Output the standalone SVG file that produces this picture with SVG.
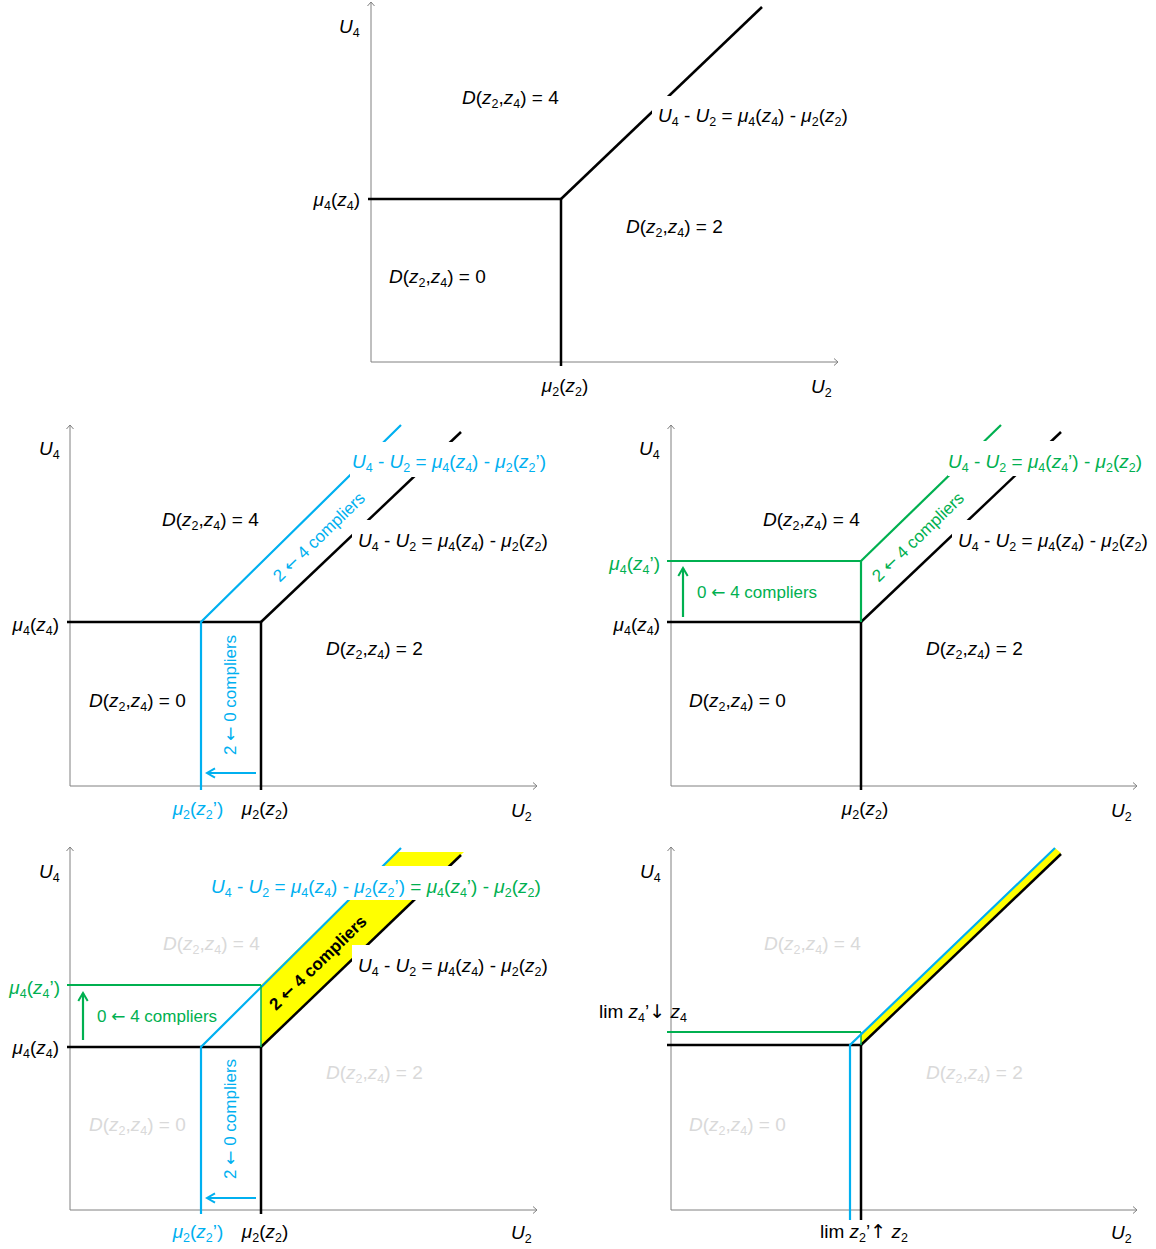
<svg xmlns="http://www.w3.org/2000/svg" width="1156" height="1249" viewBox="0 0 1156 1249">
<style>
.t{font-family:"Liberation Sans","DejaVu Sans",sans-serif;font-size:19px;fill:#000}
.c{font-size:17px}
.i{font-style:italic}
.s{font-size:12.5px}
.ar{font-family:"DejaVu Sans",sans-serif;font-style:normal}
.bl{fill:#00B0F0}
.gr{fill:#00B050}
.gy{fill:#D9D9D9}
.bd{font-weight:bold}
.ax{stroke:#808080;stroke-width:1;fill:none}
.k{stroke:#000;stroke-width:2.5;fill:none}
.bln{stroke:#00B0F0;stroke-width:2.2;fill:none}
.grn{stroke:#00B050;stroke-width:2.2;fill:none}
.grt{stroke:#00B050;stroke-width:1.5;fill:none}
.y{fill:#FFFF00;stroke:none}
.m{fill:#fff;stroke:none}
</style>
<defs>
<marker id="axh" markerUnits="userSpaceOnUse" markerWidth="8" markerHeight="10" refX="4.5" refY="5" orient="auto"><path d="M0.5,1.5 L4.5,5 L0.5,8.5" fill="none" stroke="#808080" stroke-width="1"/></marker>
<marker id="bah" markerUnits="userSpaceOnUse" markerWidth="12" markerHeight="12" refX="9" refY="6" orient="auto"><path d="M1,1.3 L9,6 L1,10.7" fill="none" stroke="#00B0F0" stroke-width="2"/></marker>
<marker id="gah" markerUnits="userSpaceOnUse" markerWidth="12" markerHeight="12" refX="9" refY="6" orient="auto"><path d="M1,1.3 L9,6 L1,10.7" fill="none" stroke="#00B050" stroke-width="2"/></marker>
</defs>
<rect width="1156" height="1249" fill="#fff"/>

<!-- ================= TOP PANEL ================= -->
<g id="panel-top">
<g id="top-connectors">
<line class="ax" x1="371" y1="362" x2="371" y2="2" marker-end="url(#axh)"/>
<line class="ax" x1="371" y1="362" x2="838" y2="362" marker-end="url(#axh)"/>
<polyline class="k" points="368,199 561,199 561,366"/>
<line class="k" x1="561" y1="199" x2="762" y2="7"/>
<rect class="m" x="652" y="96" width="200" height="35"/>
</g>
<g id="top-labels">
<text class="t" x="339" y="33"><tspan class="i">U</tspan><tspan class="s" dy="4">4</tspan></text>
<text class="t" x="462" y="104"><tspan class="i">D</tspan>(<tspan class="i">z</tspan><tspan class="s" dy="4">2</tspan><tspan dy="-4">,</tspan><tspan class="i">z</tspan><tspan class="s" dy="4">4</tspan><tspan dy="-4">) = 4</tspan></text>
<text class="t" x="658" y="122"><tspan class="i">U</tspan><tspan class="s" dy="4">4</tspan><tspan dy="-4"> - </tspan><tspan class="i">U</tspan><tspan class="s" dy="4">2</tspan><tspan dy="-4"> = </tspan><tspan class="i">μ</tspan><tspan class="s" dy="4">4</tspan><tspan dy="-4">(</tspan><tspan class="i">z</tspan><tspan class="s" dy="4">4</tspan><tspan dy="-4">) - </tspan><tspan class="i">μ</tspan><tspan class="s" dy="4">2</tspan><tspan dy="-4">(</tspan><tspan class="i">z</tspan><tspan class="s" dy="4">2</tspan><tspan dy="-4">)</tspan></text>
<text class="t" x="360" y="206" text-anchor="end"><tspan class="i">μ</tspan><tspan class="s" dy="4">4</tspan><tspan dy="-4">(</tspan><tspan class="i">z</tspan><tspan class="s" dy="4">4</tspan><tspan dy="-4">)</tspan></text>
<text class="t" x="626" y="233"><tspan class="i">D</tspan>(<tspan class="i">z</tspan><tspan class="s" dy="4">2</tspan><tspan dy="-4">,</tspan><tspan class="i">z</tspan><tspan class="s" dy="4">4</tspan><tspan dy="-4">) = 2</tspan></text>
<text class="t" x="389" y="283"><tspan class="i">D</tspan>(<tspan class="i">z</tspan><tspan class="s" dy="4">2</tspan><tspan dy="-4">,</tspan><tspan class="i">z</tspan><tspan class="s" dy="4">4</tspan><tspan dy="-4">) = 0</tspan></text>
<text class="t" x="565" y="392" text-anchor="middle"><tspan class="i">μ</tspan><tspan class="s" dy="4">2</tspan><tspan dy="-4">(</tspan><tspan class="i">z</tspan><tspan class="s" dy="4">2</tspan><tspan dy="-4">)</tspan></text>
<text class="t" x="811" y="393"><tspan class="i">U</tspan><tspan class="s" dy="4">2</tspan></text>
</g>
</g>

<!-- ================= MIDDLE LEFT ================= -->
<g id="panel-mid-left">
<g id="ml-connectors">
<line class="ax" x1="70" y1="786" x2="70" y2="425" marker-end="url(#axh)"/>
<line class="ax" x1="70" y1="786" x2="537" y2="786" marker-end="url(#axh)"/>
<polyline class="k" points="67,622 261,622 261,790"/>
<line class="k" x1="261" y1="622" x2="461" y2="432"/>
<polyline class="bln" points="201,790 201,622 401,425"/>
<line class="bln" x1="256" y1="773" x2="207" y2="773" marker-end="url(#bah)"/>
<rect class="m" x="350" y="442" width="202" height="35"/>
<rect class="m" x="352" y="520" width="200" height="36"/>
</g>
<g id="ml-labels">
<text class="t" x="39" y="455"><tspan class="i">U</tspan><tspan class="s" dy="4">4</tspan></text>
<text class="t" x="162" y="526"><tspan class="i">D</tspan>(<tspan class="i">z</tspan><tspan class="s" dy="4">2</tspan><tspan dy="-4">,</tspan><tspan class="i">z</tspan><tspan class="s" dy="4">4</tspan><tspan dy="-4">) = 4</tspan></text>
<text class="t bl" x="352" y="468"><tspan class="i">U</tspan><tspan class="s" dy="4">4</tspan><tspan dy="-4"> - </tspan><tspan class="i">U</tspan><tspan class="s" dy="4">2</tspan><tspan dy="-4"> = </tspan><tspan class="i">μ</tspan><tspan class="s" dy="4">4</tspan><tspan dy="-4">(</tspan><tspan class="i">z</tspan><tspan class="s" dy="4">4</tspan><tspan dy="-4">) - </tspan><tspan class="i">μ</tspan><tspan class="s" dy="4">2</tspan><tspan dy="-4">(</tspan><tspan class="i">z</tspan><tspan class="s" dy="4">2</tspan><tspan dy="-4">’)</tspan></text>
<text class="t" x="358" y="547"><tspan class="i">U</tspan><tspan class="s" dy="4">4</tspan><tspan dy="-4"> - </tspan><tspan class="i">U</tspan><tspan class="s" dy="4">2</tspan><tspan dy="-4"> = </tspan><tspan class="i">μ</tspan><tspan class="s" dy="4">4</tspan><tspan dy="-4">(</tspan><tspan class="i">z</tspan><tspan class="s" dy="4">4</tspan><tspan dy="-4">) - </tspan><tspan class="i">μ</tspan><tspan class="s" dy="4">2</tspan><tspan dy="-4">(</tspan><tspan class="i">z</tspan><tspan class="s" dy="4">2</tspan><tspan dy="-4">)</tspan></text>
<text class="t" x="59" y="631" text-anchor="end"><tspan class="i">μ</tspan><tspan class="s" dy="4">4</tspan><tspan dy="-4">(</tspan><tspan class="i">z</tspan><tspan class="s" dy="4">4</tspan><tspan dy="-4">)</tspan></text>
<text class="t" x="326" y="655"><tspan class="i">D</tspan>(<tspan class="i">z</tspan><tspan class="s" dy="4">2</tspan><tspan dy="-4">,</tspan><tspan class="i">z</tspan><tspan class="s" dy="4">4</tspan><tspan dy="-4">) = 2</tspan></text>
<text class="t" x="89" y="707"><tspan class="i">D</tspan>(<tspan class="i">z</tspan><tspan class="s" dy="4">2</tspan><tspan dy="-4">,</tspan><tspan class="i">z</tspan><tspan class="s" dy="4">4</tspan><tspan dy="-4">) = 0</tspan></text>
<text class="t c bl" transform="translate(323,541) rotate(-44)" text-anchor="middle">2 <tspan class="ar">←</tspan> 4 compliers</text>
<text class="t c bl" transform="translate(236,695) rotate(-90)" text-anchor="middle">2 <tspan class="ar">←</tspan> 0 compliers</text>
<text class="t bl" x="198" y="815" text-anchor="middle"><tspan class="i">μ</tspan><tspan class="s" dy="4">2</tspan><tspan dy="-4">(</tspan><tspan class="i">z</tspan><tspan class="s" dy="4">2</tspan><tspan dy="-4">’)</tspan></text>
<text class="t" x="265" y="815" text-anchor="middle"><tspan class="i">μ</tspan><tspan class="s" dy="4">2</tspan><tspan dy="-4">(</tspan><tspan class="i">z</tspan><tspan class="s" dy="4">2</tspan><tspan dy="-4">)</tspan></text>
<text class="t" x="511" y="817"><tspan class="i">U</tspan><tspan class="s" dy="4">2</tspan></text>
</g>
</g>

<!-- ================= MIDDLE RIGHT ================= -->
<g id="panel-mid-right">
<g id="mr-connectors">
<line class="ax" x1="671" y1="786" x2="671" y2="425" marker-end="url(#axh)"/>
<line class="ax" x1="671" y1="786" x2="1137" y2="786" marker-end="url(#axh)"/>
<polyline class="k" points="667,622 861,622 861,790"/>
<line class="k" x1="861" y1="622" x2="1061" y2="432"/>
<polyline class="grn" points="667,561 861,561 861,622"/>
<line class="grn" x1="861" y1="561" x2="1001" y2="425"/>
<line class="grn" x1="683" y1="617" x2="683" y2="568" marker-end="url(#gah)"/>
<rect class="m" x="948" y="441" width="202" height="35"/>
<rect class="m" x="952" y="520" width="200" height="36"/>
</g>
<g id="mr-labels">
<text class="t" x="639" y="455"><tspan class="i">U</tspan><tspan class="s" dy="4">4</tspan></text>
<text class="t" x="763" y="526"><tspan class="i">D</tspan>(<tspan class="i">z</tspan><tspan class="s" dy="4">2</tspan><tspan dy="-4">,</tspan><tspan class="i">z</tspan><tspan class="s" dy="4">4</tspan><tspan dy="-4">) = 4</tspan></text>
<text class="t gr" x="948" y="468"><tspan class="i">U</tspan><tspan class="s" dy="4">4</tspan><tspan dy="-4"> - </tspan><tspan class="i">U</tspan><tspan class="s" dy="4">2</tspan><tspan dy="-4"> = </tspan><tspan class="i">μ</tspan><tspan class="s" dy="4">4</tspan><tspan dy="-4">(</tspan><tspan class="i">z</tspan><tspan class="s" dy="4">4</tspan><tspan dy="-4">’) - </tspan><tspan class="i">μ</tspan><tspan class="s" dy="4">2</tspan><tspan dy="-4">(</tspan><tspan class="i">z</tspan><tspan class="s" dy="4">2</tspan><tspan dy="-4">)</tspan></text>
<text class="t" x="958" y="547"><tspan class="i">U</tspan><tspan class="s" dy="4">4</tspan><tspan dy="-4"> - </tspan><tspan class="i">U</tspan><tspan class="s" dy="4">2</tspan><tspan dy="-4"> = </tspan><tspan class="i">μ</tspan><tspan class="s" dy="4">4</tspan><tspan dy="-4">(</tspan><tspan class="i">z</tspan><tspan class="s" dy="4">4</tspan><tspan dy="-4">) - </tspan><tspan class="i">μ</tspan><tspan class="s" dy="4">2</tspan><tspan dy="-4">(</tspan><tspan class="i">z</tspan><tspan class="s" dy="4">2</tspan><tspan dy="-4">)</tspan></text>
<text class="t gr" x="660" y="570" text-anchor="end"><tspan class="i">μ</tspan><tspan class="s" dy="4">4</tspan><tspan dy="-4">(</tspan><tspan class="i">z</tspan><tspan class="s" dy="4">4</tspan><tspan dy="-4">’)</tspan></text>
<text class="t" x="660" y="631" text-anchor="end"><tspan class="i">μ</tspan><tspan class="s" dy="4">4</tspan><tspan dy="-4">(</tspan><tspan class="i">z</tspan><tspan class="s" dy="4">4</tspan><tspan dy="-4">)</tspan></text>
<text class="t c gr" x="697" y="598">0 <tspan class="ar">←</tspan> 4 compliers</text>
<text class="t c gr" transform="translate(922,541) rotate(-44)" text-anchor="middle">2 <tspan class="ar">←</tspan> 4 compliers</text>
<text class="t" x="926" y="655"><tspan class="i">D</tspan>(<tspan class="i">z</tspan><tspan class="s" dy="4">2</tspan><tspan dy="-4">,</tspan><tspan class="i">z</tspan><tspan class="s" dy="4">4</tspan><tspan dy="-4">) = 2</tspan></text>
<text class="t" x="689" y="707"><tspan class="i">D</tspan>(<tspan class="i">z</tspan><tspan class="s" dy="4">2</tspan><tspan dy="-4">,</tspan><tspan class="i">z</tspan><tspan class="s" dy="4">4</tspan><tspan dy="-4">) = 0</tspan></text>
<text class="t" x="865" y="815" text-anchor="middle"><tspan class="i">μ</tspan><tspan class="s" dy="4">2</tspan><tspan dy="-4">(</tspan><tspan class="i">z</tspan><tspan class="s" dy="4">2</tspan><tspan dy="-4">)</tspan></text>
<text class="t" x="1111" y="817"><tspan class="i">U</tspan><tspan class="s" dy="4">2</tspan></text>
</g>
</g>

<!-- ================= BOTTOM LEFT ================= -->
<g id="panel-bottom-left">
<g id="bl-connectors">
<line class="ax" x1="70" y1="1210" x2="70" y2="847" marker-end="url(#axh)"/>
<line class="ax" x1="70" y1="1210" x2="537" y2="1210" marker-end="url(#axh)"/>
<polygon class="y" points="261,985 397,852 464,852 261,1047"/>
<polyline class="k" points="67,1047 261,1047 261,1214"/>
<line class="k" x1="261" y1="1047" x2="461" y2="855"/>
<polyline class="bln" points="201,1214 201,1047 401,848"/>
<line class="bln" x1="256" y1="1198" x2="207" y2="1198" marker-end="url(#bah)"/>
<line class="grn" x1="67" y1="985" x2="261" y2="985"/>
<line class="grt" x1="261" y1="985" x2="261" y2="1047"/>
<line class="grn" x1="83" y1="1040" x2="83" y2="993" marker-end="url(#gah)"/>
<rect class="m" x="208" y="866" width="344" height="34"/>
<rect class="m" x="352" y="945" width="200" height="30"/>
</g>
<g id="bl-labels">
<text class="t" x="39" y="878"><tspan class="i">U</tspan><tspan class="s" dy="4">4</tspan></text>
<text class="t bl" x="211" y="893"><tspan class="i">U</tspan><tspan class="s" dy="4">4</tspan><tspan dy="-4"> - </tspan><tspan class="i">U</tspan><tspan class="s" dy="4">2</tspan><tspan dy="-4"> = </tspan><tspan class="i">μ</tspan><tspan class="s" dy="4">4</tspan><tspan dy="-4">(</tspan><tspan class="i">z</tspan><tspan class="s" dy="4">4</tspan><tspan dy="-4">) - </tspan><tspan class="i">μ</tspan><tspan class="s" dy="4">2</tspan><tspan dy="-4">(</tspan><tspan class="i">z</tspan><tspan class="s" dy="4">2</tspan><tspan dy="-4">’)</tspan><tspan class="gr"> = </tspan><tspan class="i gr">μ</tspan><tspan class="s gr" dy="4">4</tspan><tspan class="gr" dy="-4">(</tspan><tspan class="i gr">z</tspan><tspan class="s gr" dy="4">4</tspan><tspan class="gr" dy="-4">’) - </tspan><tspan class="i gr">μ</tspan><tspan class="s gr" dy="4">2</tspan><tspan class="gr" dy="-4">(</tspan><tspan class="i gr">z</tspan><tspan class="s gr" dy="4">2</tspan><tspan class="gr" dy="-4">)</tspan></text>
<text class="t gy" x="163" y="950"><tspan class="i">D</tspan>(<tspan class="i">z</tspan><tspan class="s" dy="4">2</tspan><tspan dy="-4">,</tspan><tspan class="i">z</tspan><tspan class="s" dy="4">4</tspan><tspan dy="-4">) = 4</tspan></text>
<text class="t" x="358" y="972"><tspan class="i">U</tspan><tspan class="s" dy="4">4</tspan><tspan dy="-4"> - </tspan><tspan class="i">U</tspan><tspan class="s" dy="4">2</tspan><tspan dy="-4"> = </tspan><tspan class="i">μ</tspan><tspan class="s" dy="4">4</tspan><tspan dy="-4">(</tspan><tspan class="i">z</tspan><tspan class="s" dy="4">4</tspan><tspan dy="-4">) - </tspan><tspan class="i">μ</tspan><tspan class="s" dy="4">2</tspan><tspan dy="-4">(</tspan><tspan class="i">z</tspan><tspan class="s" dy="4">2</tspan><tspan dy="-4">)</tspan></text>
<text class="t gr" x="60" y="994" text-anchor="end"><tspan class="i">μ</tspan><tspan class="s" dy="4">4</tspan><tspan dy="-4">(</tspan><tspan class="i">z</tspan><tspan class="s" dy="4">4</tspan><tspan dy="-4">’)</tspan></text>
<text class="t c gr" x="97" y="1022">0 <tspan class="ar">←</tspan> 4 compliers</text>
<text class="t" x="59" y="1054" text-anchor="end"><tspan class="i">μ</tspan><tspan class="s" dy="4">4</tspan><tspan dy="-4">(</tspan><tspan class="i">z</tspan><tspan class="s" dy="4">4</tspan><tspan dy="-4">)</tspan></text>
<text class="t c bd" transform="translate(322,967) rotate(-44)" text-anchor="middle">2 <tspan class="ar">←</tspan> 4 compliers</text>
<text class="t gy" x="326" y="1079"><tspan class="i">D</tspan>(<tspan class="i">z</tspan><tspan class="s" dy="4">2</tspan><tspan dy="-4">,</tspan><tspan class="i">z</tspan><tspan class="s" dy="4">4</tspan><tspan dy="-4">) = 2</tspan></text>
<text class="t gy" x="89" y="1131"><tspan class="i">D</tspan>(<tspan class="i">z</tspan><tspan class="s" dy="4">2</tspan><tspan dy="-4">,</tspan><tspan class="i">z</tspan><tspan class="s" dy="4">4</tspan><tspan dy="-4">) = 0</tspan></text>
<text class="t c bl" transform="translate(236,1119) rotate(-90)" text-anchor="middle">2 <tspan class="ar">←</tspan> 0 compliers</text>
<text class="t bl" x="198" y="1238" text-anchor="middle"><tspan class="i">μ</tspan><tspan class="s" dy="4">2</tspan><tspan dy="-4">(</tspan><tspan class="i">z</tspan><tspan class="s" dy="4">2</tspan><tspan dy="-4">’)</tspan></text>
<text class="t" x="265" y="1238" text-anchor="middle"><tspan class="i">μ</tspan><tspan class="s" dy="4">2</tspan><tspan dy="-4">(</tspan><tspan class="i">z</tspan><tspan class="s" dy="4">2</tspan><tspan dy="-4">)</tspan></text>
<text class="t" x="511" y="1239"><tspan class="i">U</tspan><tspan class="s" dy="4">2</tspan></text>
</g>
</g>

<!-- ================= BOTTOM RIGHT ================= -->
<g id="panel-bottom-right">
<g id="br-connectors">
<line class="ax" x1="671" y1="1210" x2="671" y2="847" marker-end="url(#axh)"/>
<line class="ax" x1="671" y1="1210" x2="1137" y2="1210" marker-end="url(#axh)"/>
<polygon class="y" points="861,1034 1055,848 1061,853 861,1045"/>
<polyline class="k" points="667,1045 861,1045 861,1220"/>
<line class="k" x1="861" y1="1045" x2="1061" y2="854"/>
<polyline class="grn" points="667,1032 861,1032"/>
<line class="grt" x1="861" y1="1032" x2="861" y2="1045"/>
<polyline class="bln" points="850,1220 850,1045 1055,848"/>
</g>
<g id="br-labels">
<text class="t" x="640" y="878"><tspan class="i">U</tspan><tspan class="s" dy="4">4</tspan></text>
<text class="t gy" x="764" y="950"><tspan class="i">D</tspan>(<tspan class="i">z</tspan><tspan class="s" dy="4">2</tspan><tspan dy="-4">,</tspan><tspan class="i">z</tspan><tspan class="s" dy="4">4</tspan><tspan dy="-4">) = 4</tspan></text>
<text class="t" x="599" y="1018">lim <tspan class="i">z</tspan><tspan class="s" dy="4">4</tspan><tspan dy="-4">’</tspan><tspan class="ar">↓</tspan> <tspan class="i">z</tspan><tspan class="s" dy="4">4</tspan></text>
<text class="t gy" x="926" y="1079"><tspan class="i">D</tspan>(<tspan class="i">z</tspan><tspan class="s" dy="4">2</tspan><tspan dy="-4">,</tspan><tspan class="i">z</tspan><tspan class="s" dy="4">4</tspan><tspan dy="-4">) = 2</tspan></text>
<text class="t gy" x="689" y="1131"><tspan class="i">D</tspan>(<tspan class="i">z</tspan><tspan class="s" dy="4">2</tspan><tspan dy="-4">,</tspan><tspan class="i">z</tspan><tspan class="s" dy="4">4</tspan><tspan dy="-4">) = 0</tspan></text>
<text class="t" x="864" y="1238" text-anchor="middle">lim <tspan class="i">z</tspan><tspan class="s" dy="4">2</tspan><tspan dy="-4">’</tspan><tspan class="ar">↑</tspan> <tspan class="i">z</tspan><tspan class="s" dy="4">2</tspan></text>
<text class="t" x="1111" y="1239"><tspan class="i">U</tspan><tspan class="s" dy="4">2</tspan></text>
</g>
</g>
</svg>
